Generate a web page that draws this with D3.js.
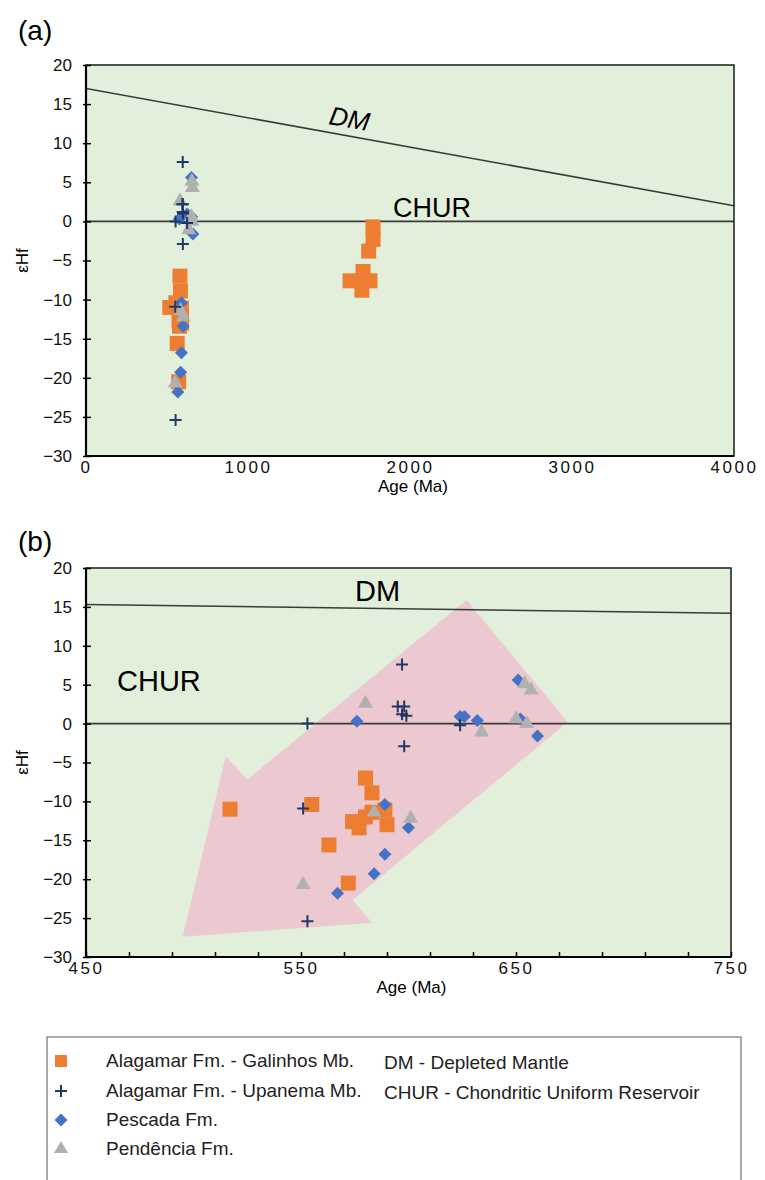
<!DOCTYPE html>
<html>
<head>
<meta charset="utf-8">
<script src="https://cdn.jsdelivr.net/npm/d3@7"></script>
<style>
  body { margin: 0; background: #fff; }
  text { font-family: "Liberation Sans", Arial, sans-serif; }
</style>
</head>
<body>
<div id="chart"></div>
<script>
// Data
const galinhosAge = [517, 555, 580, 583, 563, 572, 574, 577, 580, 583, 589, 590, 1772, 1772, 1745, 1710, 1630, 1753, 1703, 1700];
const galinhosEps = [-11, -10.4, -7, -8.9, -15.6, -20.5, -12.6, -13.4, -12, -11.4, -11.1, -13, -0.7, -2.3, -3.8, -6.4, -7.6, -7.6, -8.8, -7.6];
const upanemaAge = [553, 597, 595, 598, 597, 599, 598, 551, 553, 624];
const upanemaEps = [0, 7.6, 2.2, 2.2, 1.2, 1.0, -2.9, -10.9, -25.4, -0.2];
const pescadaAge = [576, 589, 600, 589, 584, 567, 651, 624, 626, 632, 652, 660];
const pescadaEps = [0.3, -10.4, -13.4, -16.8, -19.3, -21.8, 5.6, 0.9, 0.9, 0.4, 0.6, -1.6];
const pendenciaAge = [580, 584, 601, 551, 654, 657, 650, 655, 634];
const pendenciaEps = [2.6, -11.4, -12.2, -20.7, 5.1, 4.3, 0.6, 0, -1.1];

// reference curves
const dmAge = [0, 4000];
const dmEps = [17, 2];
const churEps = 0;

// trend arrow in panel (b)
const arrowAge = [495, 515, 525, 627, 674, 574, 583];
const arrowEps = [-27.4, -4.2, -7.2, 15.9, 0.2, -22.7, -25.6];

const epsTicks = [20, 15, 10, 5, 0, -5, -10, -15, -20, -25, -30];
const ageTicksA = [0, 1000, 2000, 3000, 4000];
const ageTicksB = [450, 550, 650, 750];
const minorTicksB = d3.range(450, 751, 20);

const legendNames = ['Alagamar Fm. - Galinhos Mb.', 'Alagamar Fm. - Upanema Mb.', 'Pescada Fm.', 'Pendência Fm.'];
const legendNotes = ['DM - Depleted Mantle', 'CHUR - Chondritic Uniform Reservoir'];

const zip = (a, b) => a.map((v, i) => ({ age: v, eps: b[i] }));
const series = [
  { name: legendNames[0], pts: zip(galinhosAge, galinhosEps), kind: 'square', color: '#ed7d31' },
  { name: legendNames[2], pts: zip(pescadaAge, pescadaEps), kind: 'diamond', color: '#4472c4' },
  { name: legendNames[3], pts: zip(pendenciaAge, pendenciaEps), kind: 'triangle', color: '#b0b0b0' },
  { name: legendNames[1], pts: zip(upanemaAge, upanemaEps), kind: 'cross', color: '#203864' }
];

const svg = d3.select('#chart').append('svg')
  .attr('width', 765).attr('height', 1180);

// draw one marker at (x,y)
function marker(g, kind, color, x, y, s) {
  if (kind === 'square') {
    g.append('path').attr('d', d3.symbol(d3.symbolSquare, s * s)())
      .attr('transform', `translate(${x},${y})`).attr('fill', color);
  } else if (kind === 'diamond') {
    const side = s / Math.SQRT2;
    g.append('path').attr('d', d3.symbol(d3.symbolSquare, side * side)())
      .attr('transform', `translate(${x},${y}) rotate(45)`).attr('fill', color);
  } else if (kind === 'triangle') {
    g.append('path').attr('d', d3.symbol(d3.symbolTriangle, Math.sqrt(3) / 4 * s * s)())
      .attr('transform', `translate(${x},${y})`).attr('fill', color);
  } else {
    const h = s / 2;
    g.append('path').attr('d', `M${x - h},${y}H${x + h}M${x},${y - h}V${y + h}`)
      .attr('stroke', color).attr('stroke-width', 2).attr('fill', 'none');
  }
}

const sizes = { square: 15, diamond: 13, triangle: 15, cross: 12 };

function drawPanel(cfg) {
  const { x, y, label, labelY, ticksX, minorX } = cfg;
  const g = svg.append('g');
  const [x0, x1] = x.range();
  const [y0, y1] = y.range();

  // plot background
  g.append('rect').attr('x', x0).attr('y', y1).attr('width', x1 - x0).attr('height', y0 - y1)
    .attr('fill', '#e2efda');

  const clipId = 'clip' + label.replace(/\W/g, '');
  g.append('clipPath').attr('id', clipId).append('rect')
    .attr('x', x0).attr('y', y1).attr('width', x1 - x0).attr('height', y0 - y1);
  const inner = g.append('g').attr('clip-path', `url(#${clipId})`);

  if (cfg.arrow) {
    inner.append('polygon')
      .attr('points', arrowAge.map((a, i) => [x(a), y(arrowEps[i])].join(',')).join(' '))
      .attr('fill', '#ecc8d0');
  }

  // CHUR and DM lines
  inner.append('line').attr('x1', x0).attr('x2', x1).attr('y1', y(churEps)).attr('y2', y(churEps))
    .attr('stroke', '#3a3a3a').attr('stroke-width', 1.6);
  const dm = d3.line().x(d => x(d.age)).y(d => y(d.eps));
  inner.append('path').datum(zip(dmAge, dmEps)).attr('d', dm)
    .attr('fill', 'none').attr('stroke', '#3a3a3a').attr('stroke-width', 1.6);

  // points
  series.forEach(s => {
    s.pts.filter(p => p.age >= x.domain()[0] && p.age <= x.domain()[1])
      .forEach(p => marker(inner, s.kind, s.color, x(p.age), y(p.eps), sizes[s.kind]));
  });

  // frame
  g.append('rect').attr('x', x0).attr('y', y1).attr('width', x1 - x0).attr('height', y0 - y1)
    .attr('fill', 'none').attr('stroke', '#1a1a1a').attr('stroke-width', 1.5);
  g.append('path').attr('d', `M${x0},${y1}V${y0}H${x1}`)
    .attr('fill', 'none').attr('stroke', '#000').attr('stroke-width', 2.2);

  // y axis
  const ya = g.append('g').attr('transform', `translate(${x0},0)`)
    .call(d3.axisLeft(y).tickValues(epsTicks).tickSizeInner(3).tickSizeOuter(0).tickPadding(11));
  ya.select('.domain').remove();
  ya.selectAll('line').attr('stroke-width', 1.5);
  ya.selectAll('text').attr('font-size', 17).attr('fill', '#111');
  const yi = g.append('g').attr('transform', `translate(${x0},0)`)
    .call(d3.axisRight(y).tickValues(epsTicks).tickSize(5).tickFormat(''));
  yi.select('.domain').remove();
  yi.selectAll('line').attr('stroke-width', 1.5);

  // x axis
  const xa = g.append('g').attr('transform', `translate(0,${y0})`)
    .call(d3.axisBottom(x).tickValues(ticksX).tickSize(0).tickPadding(5).tickFormat(d3.format('d')));
  xa.select('.domain').remove();
  xa.selectAll('text').attr('font-size', 17).attr('fill', '#111').attr('letter-spacing', 2.5);
  if (minorX) {
    const xm = g.append('g').attr('transform', `translate(0,${y0})`)
      .call(d3.axisTop(x).tickValues(minorX).tickSize(5).tickFormat(''));
    xm.select('.domain').remove();
    xm.selectAll('line').attr('stroke-width', 1.5);
  }

  // titles
  g.append('text').attr('x', (x0 + x1) / 2 + 3).attr('y', y0 + 36).attr('text-anchor', 'middle')
    .attr('font-size', 17).text('Age (Ma)');
  g.append('text').attr('transform', `translate(28,${(y0 + y1) / 2}) rotate(-90)`)
    .attr('text-anchor', 'middle').attr('font-size', 17).text('εHf');
  g.append('text').attr('x', 18).attr('y', labelY).attr('font-size', 28).text(label);
  return g;
}

// Panel (a)
const xA = d3.scaleLinear().domain([0, 4000]).range([86, 734]);
const yA = d3.scaleLinear().domain([-30, 20]).range([456, 65]);
const gA = drawPanel({ x: xA, y: yA, label: '(a)', labelY: 40, ticksX: ageTicksA });
const dmAngle = Math.atan2(yA(dmEps[1]) - yA(dmEps[0]), xA(dmAge[1]) - xA(dmAge[0])) * 180 / Math.PI;
gA.append('text').attr('transform', `translate(328,124) rotate(${dmAngle})`)
  .attr('font-size', 26).attr('font-style', 'italic').text('DM');
gA.append('text').attr('x', 393).attr('y', 217).attr('font-size', 27).text('CHUR');

// Panel (b)
const xB = d3.scaleLinear().domain([450, 750]).range([86, 731]);
const yB = d3.scaleLinear().domain([-30, 20]).range([957, 568]);
const gB = drawPanel({ x: xB, y: yB, label: '(b)', labelY: 551, ticksX: ageTicksB, minorX: minorTicksB, arrow: true });
gB.append('text').attr('x', 355).attr('y', 601).attr('font-size', 29).text('DM');
gB.append('text').attr('x', 117).attr('y', 691).attr('font-size', 29).text('CHUR');

// Legend
const lg = svg.append('g');
lg.append('rect').attr('x', 47).attr('y', 1037).attr('width', 694).attr('height', 160)
  .attr('fill', '#fff').attr('stroke', '#555').attr('stroke-width', 1);
const legendKinds = [['square', '#ed7d31', 12], ['cross', '#203864', 12], ['diamond', '#4472c4', 13], ['triangle', '#b0b0b0', 14]];
const rowY = [1061, 1091, 1120, 1149];
legendNames.forEach((n, i) => {
  const [k, c, s] = legendKinds[i];
  marker(lg, k, c, 61, rowY[i], s);
  lg.append('text').attr('x', 106).attr('y', rowY[i] + 6).attr('font-size', 19).attr('fill', '#222').text(n);
});
legendNotes.forEach((n, i) => {
  lg.append('text').attr('x', 384).attr('y', rowY[i] + 8).attr('font-size', 19).attr('fill', '#222').text(n);
});
</script>
</body>
</html>
